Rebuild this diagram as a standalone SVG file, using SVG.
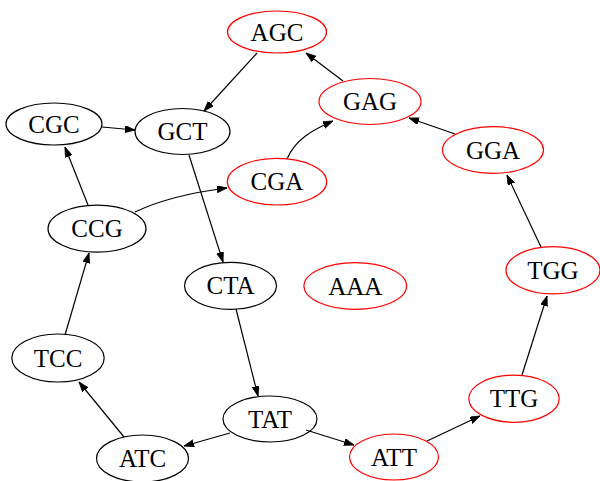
<svg xmlns="http://www.w3.org/2000/svg" width="600" height="481" viewBox="0 0 600 481">
<style>
.n ellipse{fill:none;stroke-width:1.2}
.b ellipse{stroke:#000}
.r ellipse{stroke:#ff0000}
.n text{font-family:"Liberation Serif","Times New Roman",serif;font-size:25px;fill:#000;text-anchor:middle}
#edges path{fill:none;stroke:#000;stroke-width:1.2;marker-end:url(#ah)}
</style>
<defs>
<marker id="ah" markerUnits="userSpaceOnUse" markerWidth="11" markerHeight="8" refX="10" refY="3.5" orient="auto">
<path d="M0,0 L10,3.5 L0,7 z" fill="#000" stroke="#000" stroke-width="0.8"/>
</marker>
</defs>
<rect width="600" height="481" fill="#fff"/>
<g id="edges">
<path d="M257,53 L204,111"/>
<path d="M102,127 L135,130"/>
<path d="M343,81 L306,53"/>
<path d="M88,205 L65,147"/>
<path d="M135,212 C160,200 195,192 227,188"/>
<path d="M287,159 C295,140 312,130 333,121"/>
<path d="M455,134 L409,118"/>
<path d="M541,247 L507,175"/>
<path d="M189,155 L223,262"/>
<path d="M236,309 L258,396"/>
<path d="M65,335 L89,253"/>
<path d="M124,437 L79,382"/>
<path d="M230,433 L184,446"/>
<path d="M306,430 L354,445"/>
<path d="M427,441 L480,416"/>
<path d="M522,375 L547,296"/>
</g>
<g id="AGC" class="n r"><ellipse cx="277" cy="32" rx="49.5" ry="21"/><text x="277" y="40.5">AGC</text></g>
<g id="GAG" class="n r"><ellipse cx="370" cy="101.5" rx="51" ry="23"/><text x="370" y="110">GAG</text></g>
<g id="CGC" class="n b"><ellipse cx="54" cy="124" rx="48" ry="21"/><text x="54" y="132.5">CGC</text></g>
<g id="GCT" class="n b"><ellipse cx="182.5" cy="131.5" rx="47.5" ry="23"/><text x="182.5" y="140">GCT</text></g>
<g id="GGA" class="n r"><ellipse cx="493" cy="150" rx="50.5" ry="23.3"/><text x="493" y="158.5">GGA</text></g>
<g id="CGA" class="n r"><ellipse cx="277" cy="181.7" rx="49.7" ry="23.3"/><text x="277" y="190.2">CGA</text></g>
<g id="CCG" class="n b"><ellipse cx="97" cy="228.7" rx="49" ry="23.5"/><text x="97" y="237.2">CCG</text></g>
<g id="CTA" class="n b"><ellipse cx="230.5" cy="285.8" rx="46" ry="23.5"/><text x="230.5" y="294.3">CTA</text></g>
<g id="AAA" class="n r"><ellipse cx="355.3" cy="286" rx="51.3" ry="23.3"/><text x="355.3" y="294.5">AAA</text></g>
<g id="TGG" class="n r"><ellipse cx="553" cy="270.3" rx="47" ry="23.6"/><text x="553" y="278.8">TGG</text></g>
<g id="TCC" class="n b"><ellipse cx="58" cy="358" rx="46.2" ry="24"/><text x="58" y="366.5">TCC</text></g>
<g id="TTG" class="n r"><ellipse cx="514" cy="398.7" rx="45.2" ry="23.6"/><text x="514" y="407.2">TTG</text></g>
<g id="TAT" class="n b"><ellipse cx="270" cy="419" rx="47" ry="23"/><text x="270" y="427.5">TAT</text></g>
<g id="ATC" class="n b"><ellipse cx="142.5" cy="458.5" rx="46" ry="23.5"/><text x="142.5" y="467">ATC</text></g>
<g id="ATT" class="n r"><ellipse cx="394" cy="457" rx="44.5" ry="23"/><text x="394" y="465.5">ATT</text></g>
</svg>
